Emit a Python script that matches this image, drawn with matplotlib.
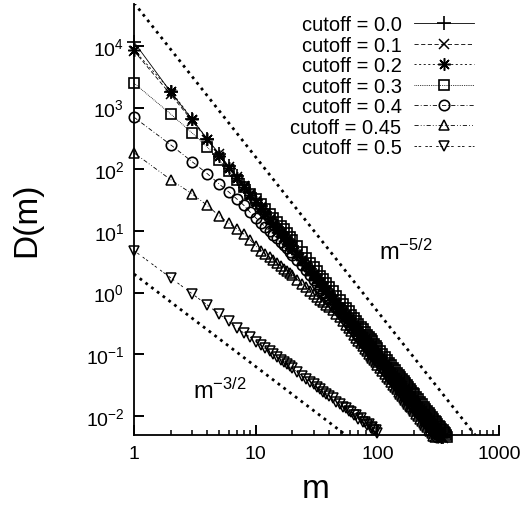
import numpy as np
import matplotlib
matplotlib.use('Agg')
import matplotlib.pyplot as plt
from matplotlib.ticker import FixedLocator, NullLocator

# cluster sizes m (shared grid)
m_vals = [1, 2, 3, 4, 5, 6, 7, 8, 9, 10, 11, 12, 13, 14, 15, 16, 17, 18, 19, 20,
          22, 24, 26, 28, 30, 32, 34, 36, 38, 40,
          43, 46, 49, 52, 55, 58, 61, 64, 67, 70, 73, 76, 79, 82, 85, 88, 91, 94, 97, 100,
          105, 110, 115, 120, 125, 130, 135, 140, 145, 150, 155, 160, 165, 170, 175, 180, 185, 190, 195, 200,
          208, 216, 224, 232, 240, 248, 256, 264, 272, 280, 288, 296, 304, 312, 320, 328, 336, 344, 352, 360, 368, 376]

d_00 = [11600, 1800, 650, 310, 180, 112, 78, 55, 41, 31.5, 25, 20, 16.5, 13.5, 11.6, 9.7, 8.4, 7.3, 6.3, 5.6,
        4.4, 3.55, 2.9, 2.4, 2.02, 1.74, 1.48, 1.3, 1.13, 0.99,
        0.83, 0.69, 0.60, 0.51, 0.45, 0.385, 0.345, 0.31, 0.27, 0.245, 0.222, 0.197, 0.181, 0.163, 0.152, 0.137, 0.128, 0.116, 0.109, 0.1,
        0.089, 0.078, 0.071, 0.063, 0.058, 0.052, 0.047, 0.0435, 0.039, 0.0365, 0.0332, 0.031, 0.0284, 0.0267, 0.0245, 0.0232, 0.0213, 0.0202, 0.0186, 0.0178,
        0.0159, 0.0147, 0.0132, 0.0123, 0.0111, 0.0104, 0.0095, 0.0089, 0.0081, 0.0077, 0.0070, 0.0067, 0.0062, 0.0058, 0.0055, 0.0051, 0.0048, 0.0045]
d_01 = [8300, 1640, 615, 303, 174, 110, 75, 53.5, 40, 30.7, 24.2, 19.4, 15.9, 13.2, 11.2, 9.5, 8.1, 7.05, 6.15, 5.4,
        4.3, 3.43, 2.81, 2.33, 1.97, 1.68, 1.45, 1.25, 1.1, 0.96,
        0.80, 0.68, 0.575, 0.50, 0.432, 0.38, 0.333, 0.297, 0.263, 0.237, 0.214, 0.193, 0.175, 0.159, 0.146, 0.134, 0.123, 0.114, 0.105, 0.097,
        0.086, 0.0765, 0.0684, 0.0615, 0.0556, 0.0503, 0.0458, 0.0418, 0.0383, 0.0352, 0.0324, 0.030, 0.0277, 0.0257, 0.024, 0.0223, 0.0209, 0.0195, 0.0182, 0.0172,
        0.0155, 0.0142, 0.0129, 0.0118, 0.0109, 0.0100, 0.0093, 0.0086, 0.0079, 0.0074, 0.0069, 0.0064, 0.0060, 0.0056, 0.0053, 0.0050, 0.0047, 0.0044]
d_02 = [8600, 1890, 656, 311, 165, 106, 72, 52, 39, 30, 23.6, 19, 15.6, 12.9, 10.9, 9.3, 8.0, 6.9, 6.0, 5.3,
        4.2, 3.37, 2.76, 2.28, 1.93, 1.65, 1.42, 1.23, 1.08, 0.94,
        0.78, 0.665, 0.565, 0.488, 0.425, 0.37, 0.327, 0.29, 0.259, 0.232, 0.209, 0.189, 0.171, 0.156, 0.143, 0.131, 0.121, 0.111, 0.103, 0.095,
        0.084, 0.075, 0.067, 0.060, 0.0545, 0.0493, 0.0448, 0.041, 0.0375, 0.0345, 0.0317, 0.0294, 0.0272, 0.0252, 0.0235, 0.0219, 0.0204, 0.0191, 0.0179, 0.0168,
        0.0152, 0.0139, 0.0126, 0.0116, 0.0106, 0.0098, 0.0091, 0.0084, 0.0078, 0.0072, 0.0067, 0.0063, 0.0059, 0.0055, 0.0052, 0.0049, 0.0046]
d_03 = [2500, 790, 390, 230, 142, 94, 67.8, 51.3, 40.4, 32.5, 26.9, 22.4, 19.0, 16.3, 14.1, 12.2, 10.6, 9.2, 8.1, 7.1,
        5.6, 4.5, 3.68, 3.05, 2.58, 2.2, 1.89, 1.64, 1.44, 1.25,
        1.05, 0.885, 0.755, 0.65, 0.566, 0.495, 0.437, 0.387, 0.345, 0.31, 0.279, 0.253, 0.229, 0.208, 0.19, 0.175, 0.161, 0.149, 0.137, 0.127,
        0.112, 0.100, 0.0895, 0.0805, 0.0728, 0.0659, 0.060, 0.0547, 0.0502, 0.0461, 0.0424, 0.0392, 0.0363, 0.0337, 0.0314, 0.0292, 0.0273, 0.0255, 0.0239, 0.0225,
        0.0203, 0.0185, 0.0169, 0.0155, 0.0142, 0.0131, 0.0121, 0.0112, 0.0104, 0.0097, 0.009, 0.0084, 0.0079, 0.0074, 0.0069, 0.0065, 0.0061, 0.0058, 0.0055, 0.0052, 0.0049, 0.0046]
d_04 = [700, 250, 133, 85, 58, 43, 33, 26, 20.2, 16.4, 13.7, 11.6, 10.0, 8.7, 7.6, 6.6, 5.9, 5.2, 4.6, 4.1,
        3.35, 2.76, 2.29, 1.92, 1.62, 1.38, 1.19, 1.03, 0.9, 0.79,
        0.66, 0.557, 0.476, 0.41, 0.357, 0.312, 0.275, 0.244, 0.218, 0.195, 0.176, 0.159, 0.144, 0.131, 0.12, 0.11, 0.102, 0.094, 0.086, 0.08,
        0.0708, 0.063, 0.0564, 0.0507, 0.0458, 0.0415, 0.0378, 0.0345, 0.0316, 0.029, 0.0267, 0.0247, 0.0229, 0.0212, 0.0198, 0.0184, 0.0172, 0.0161, 0.015, 0.0142,
        0.0128, 0.0117, 0.0106, 0.0098, 0.009, 0.0082, 0.0076, 0.0071, 0.0066, 0.0061, 0.0057, 0.0053, 0.005, 0.0046]
d_045 = [185, 68, 40, 26, 17.6, 13.5, 10.8, 8.9, 7.2, 5.7, 4.8, 4.2, 3.75, 3.35, 3.0, 2.7, 2.45, 2.25, 2.05, 1.9,
         1.62, 1.4, 1.22, 1.08, 0.96, 0.86, 0.77, 0.7, 0.63, 0.58,
         0.52, 0.455, 0.395, 0.345, 0.302, 0.265, 0.234, 0.207, 0.185, 0.166, 0.15, 0.135, 0.122, 0.112, 0.102, 0.094, 0.086, 0.08, 0.0735, 0.068,
         0.060, 0.0536, 0.048, 0.0431, 0.039, 0.0353, 0.0321, 0.0293, 0.0269, 0.0247, 0.0227, 0.021, 0.0194, 0.018, 0.0168, 0.0156, 0.0146, 0.0137, 0.0128, 0.012,
         0.0109, 0.0099, 0.009, 0.0083, 0.0076, 0.007, 0.0065, 0.006, 0.0056, 0.0052, 0.0048, 0.0045]
d_05 = [4.8, 1.74, 0.96, 0.63, 0.45, 0.34, 0.27, 0.22, 0.19, 0.16, 0.139, 0.124, 0.111, 0.1, 0.09, 0.082, 0.075, 0.069, 0.064, 0.059,
        0.051, 0.045, 0.04, 0.036, 0.0325, 0.029, 0.027, 0.0245, 0.023, 0.021,
        0.0192, 0.0168, 0.0158, 0.0141, 0.0135, 0.0119, 0.0116, 0.0103, 0.0102, 0.0090, 0.0091, 0.0080, 0.0081, 0.0071, 0.0073, 0.0064, 0.0066, 0.0058, 0.0060, 0.0053]

series = [d_00, d_01, d_02, d_03, d_04, d_045, d_05]
labels = ['cutoff = 0.0', 'cutoff = 0.1', 'cutoff = 0.2', 'cutoff = 0.3',
          'cutoff = 0.4', 'cutoff = 0.45', 'cutoff = 0.5']

# guide power laws
guide_prefactor = [5e4, 2.0]
guide_exponent = [-2.5, -1.5]
guide_labels = [r'$m^{-5/2}$', r'$m^{-3/2}$']
guide_label_pos = [(103, 3.5), (3.05, 0.0197)]

x_ticks = [1, 10, 100, 1000]
x_tick_labels = ['1', '10', '100', '1000']
y_ticks = [1e-2, 1e-1, 1e0, 1e1, 1e2, 1e3, 1e4]

plt.rcParams['font.family'] = ['Liberation Sans', 'DejaVu Sans']
plt.rcParams['mathtext.fontset'] = 'custom'
plt.rcParams['mathtext.rm'] = 'Liberation Sans'
plt.rcParams['mathtext.it'] = 'Liberation Sans'
plt.rcParams['mathtext.default'] = 'regular'

W, H = 524, 506
fig = plt.figure(figsize=(W / 100, H / 100), dpi=100)
ax = fig.add_axes([134 / W, 70 / H, 365 / W, 431 / H])

styles = [
    dict(ls='-', marker='+', ms=10, mew=1.2),
    dict(ls=(0, (5, 3)), marker='x', ms=6.5, mew=1.1),
    dict(ls=(0, (2.5, 3)), marker=(8, 2, 0), ms=9, mew=1.1),
    dict(ls=(0, (1, 1.2)), marker='s', ms=7.5, mew=1.2, mfc='none'),
    dict(ls=(0, (5, 2.5, 1, 2.5)), marker='o', ms=7.5, mew=1.2, mfc='none'),
    dict(ls=(0, (5, 2.5, 1, 2.5, 1, 2.5)), marker='^', ms=7, mew=1.1, mfc='none'),
    dict(ls=(0, (3, 2, 3, 5)), marker='v', ms=7, mew=1.1, mfc='none'),
]

handles = []
for d, lab, st in zip(series, labels, styles):
    x = m_vals[:len(d)]
    ln, = ax.plot(x, d, color='black', lw=0.6, mec='black', clip_on=False,
                  label=lab, **st)
    handles.append(ln)

mm = np.logspace(0, 3, 400)
for c, e in zip(guide_prefactor, guide_exponent):
    ax.plot(mm, c * mm ** e, color='black', lw=2.0, ls=(0, (1, 1.6)),
            dash_capstyle='butt')

for lab, (gx, gy) in zip(guide_labels, guide_label_pos):
    ax.text(gx, gy, lab, fontsize=17, ha='left', va='baseline')

ax.set_xscale('log')
ax.set_yscale('log')
ax.set_xlim(1, 1000)
ax.set_ylim(0.0049, 4.8e4)

ax.set_xticks(x_ticks, x_tick_labels)
ax.yaxis.set_major_locator(FixedLocator(y_ticks))
ax.yaxis.set_minor_locator(NullLocator())

for s in ['top', 'right']:
    ax.spines[s].set_visible(False)
for s in ['left', 'bottom']:
    ax.spines[s].set_linewidth(1.3)

ax.tick_params(which='major', direction='in', length=7, width=1.4,
               labelsize=14, pad=7)
ax.tick_params(which='minor', direction='in', length=3.5, width=1.1)

fig.text(27 / W, 1 - 220 / H, 'D(m)', rotation=90, fontsize=24,
         ha='center', va='center')
fig.text(316 / W, 1 - 498 / H, 'm', fontsize=24, ha='center', va='baseline')

leg = ax.legend(handles=handles, labels=labels, loc='upper right',
                bbox_to_anchor=(474 / W, 1 - 16.5 / H), bbox_transform=fig.transFigure,
                frameon=False, markerfirst=False, fontsize=14.5,
                handlelength=3.0, handletextpad=0.6, labelspacing=0.07,
                borderpad=0, borderaxespad=0, numpoints=1)

fig.savefig('out.png', dpi=100)
